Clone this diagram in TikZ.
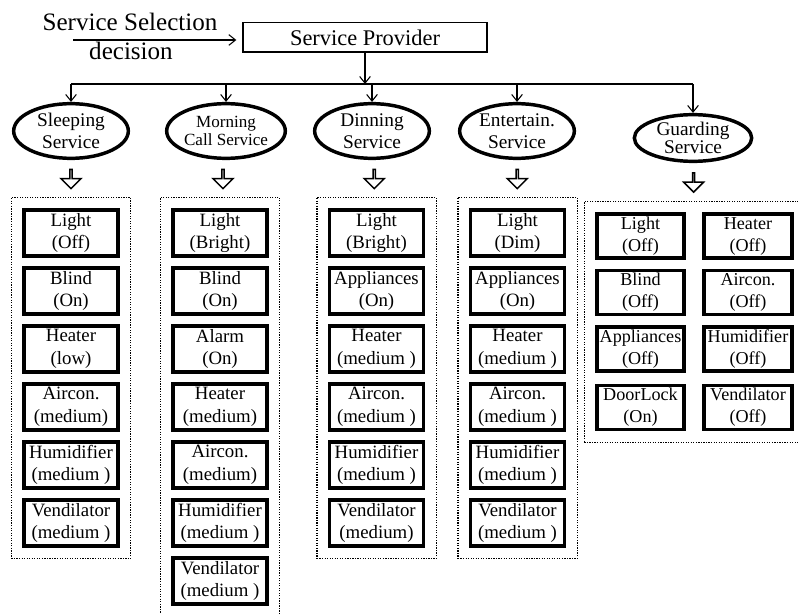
\documentclass[tikz,border=0pt]{standalone}
\usepackage{fontspec}
\setmainfont{Liberation Serif}
\usetikzlibrary{shapes.geometric,shapes.arrows,arrows.meta,fit,calc}

\tikzset{
  devbox/.style={draw, line width=2.9pt, minimum width=70.5pt, minimum height=34.5pt, inner sep=0.5pt, align=center, font=\fontsize{14.1}{17}\selectfont},
  gdevbox/.style={devbox, minimum width=65.4pt, minimum height=33pt, inner sep=0pt, font=\fontsize{13.6}{16.5}\selectfont},
  servnode/.style={ellipse, draw, line width=2.6pt, minimum width=86pt, minimum height=41pt, inner sep=0pt, align=center, font=\fontsize{14.5}{16.3}\selectfont},
  grpbox/.style={draw, densely dotted, line width=0.9pt, inner sep=8pt},
  downarrow/.style={single arrow, draw, line width=1.1pt, shape border rotate=270, minimum height=14.5pt, minimum width=15pt, single arrow head extend=4.5pt, inner sep=0pt},
  feed/.style={-{Straight Barb[length=5pt,width=8pt]}, line width=0.8pt},
}

\begin{document}
\begin{tikzpicture}[x=0.75pt,y=-0.75pt]
            \useasboundingbox (0,0) rectangle (798,613);

            % top: decision and provider
            \node[draw, line width=1pt, minimum width=183pt, minimum height=22pt, inner sep=0pt, font=\fontsize{16.8}{19}\selectfont] (P) at (365,37.5) {Service Provider};
            \node[font=\fontsize{18.8}{21}\selectfont] (sel) at (130,22) {Service Selection};
            \node[font=\fontsize{18.8}{21}\selectfont] (dec) at (131,51) {decision};
            \coordinate (in) at (73,40);
            \coordinate (bus) at (0,84);
            \draw[feed, shorten >=4.5pt] (in) to (in -| P.west);

            % services
            \node[servnode] (S) at (71,131) {Sleeping\\Service};
            \node[servnode, font=\fontsize{12.8}{13.8}\selectfont] (M) at (226,131) {Morning\\Call Service};
            \node[servnode] (D) at (372,131) {Dinning\\Service};
            \node[servnode] (E) at (517,131) {Entertain.\\Service};
            \node[servnode, minimum width=88pt, minimum height=35pt, inner ysep=-1.5pt, font=\fontsize{14.5}{13.5}\selectfont] (G) at (693,138) {Guarding\\Service};

            \draw[line width=0.8pt] (S.north |- bus) to (G.north |- bus);
            \draw[feed] (P.south) to (P.south |- bus);
            \draw[feed] (S.north |- bus) to (S.north); \draw[feed] (M.north |- bus) to (M.north);
            \draw[feed] (D.north |- bus) to (D.north); \draw[feed] (E.north |- bus) to (E.north);
            \draw[feed] (G.north |- bus) to (G.north);

            % sleeping
            \node[devbox] (s1) at (71,233) {Light\\(Off)};
            \node[devbox] (s2) at (71,291) {Blind\\(On)};
            \node[devbox] (s3) at (71,349) {Heater\\(low)};
            \node[devbox] (s4) at (71,407) {Aircon.\\(medium)};
            \node[devbox] (s5) at (71,465) {Humidifier\\(medium )};
            \node[devbox] (s6) at (71,523) {Vendilator\\(medium )};

            % morning call
            \node[devbox] (m1) at (220,233) {Light\\(Bright)};
            \node[devbox] (m2) at (220,291) {Blind\\(On)};
            \node[devbox] (m3) at (220,349) {Alarm\\(On)};
            \node[devbox] (m4) at (220,407) {Heater\\(medium)};
            \node[devbox] (m5) at (220,465) {Aircon.\\(medium)};
            \node[devbox] (m6) at (220,523) {Humidifier\\(medium )};
            \node[devbox] (m7) at (220,581) {Vendilator\\(medium )};

            % dinning
            \node[devbox] (d1) at (376.5,233) {Light\\(Bright)};
            \node[devbox] (d2) at (376.5,291) {Appliances\\(On)};
            \node[devbox] (d3) at (376.5,349) {Heater\\(medium )};
            \node[devbox] (d4) at (376.5,407) {Aircon.\\(medium )};
            \node[devbox] (d5) at (376.5,465) {Humidifier\\(medium )};
            \node[devbox] (d6) at (376.5,523) {Vendilator\\(medium)};

            % entertain
            \node[devbox] (e1) at (517.5,233) {Light\\(Dim)};
            \node[devbox] (e2) at (517.5,291) {Appliances\\(On)};
            \node[devbox] (e3) at (517.5,349) {Heater\\(medium )};
            \node[devbox] (e4) at (517.5,407) {Aircon.\\(medium )};
            \node[devbox] (e5) at (517.5,465) {Humidifier\\(medium )};
            \node[devbox] (e6) at (517.5,523) {Vendilator\\(medium )};

            % guarding
            \node[gdevbox] (g1) at (640.5,236) {Light\\(Off)};
            \node[gdevbox] (g2) at (748,236) {Heater\\(Off)};
            \node[gdevbox] (g3) at (640.5,292.5) {Blind\\(Off)};
            \node[gdevbox] (g4) at (748,292.5) {Aircon.\\(Off)};
            \node[gdevbox] (g5) at (640.5,349) {Appliances\\(Off)};
            \node[gdevbox] (g6) at (748,349) {Humidifier\\(Off)};
            \node[gdevbox] (g7) at (640.5,407.5) {DoorLock\\(On)};
            \node[gdevbox] (g8) at (748,407.5) {Vendilator\\(Off)};

            \node[grpbox, fit=(s1)(s6)] (sg) {};
            \node[grpbox, fit=(m1)(m7)] (mg) {};
            \node[grpbox, fit=(d1)(d6)] (dg) {};
            \node[grpbox, fit=(e1)(e6)] (eg) {};
            \node[grpbox, fit=(g1)(g8)] (gg) {};

            \node[downarrow] (sa) at ($(S.south)!.5!(sg.north)$) {};
            \node[downarrow] (ma) at ($(M.south)!.5!(mg.north)$) {};
            \node[downarrow] (da) at ($(D.south)!.5!(dg.north)$) {};
            \node[downarrow] (ea) at ($(E.south)!.5!(eg.north)$) {};
            \node[downarrow] (ga) at ($(G.south)!.5!(gg.north)$) {};
        \end{tikzpicture}
\end{document}
